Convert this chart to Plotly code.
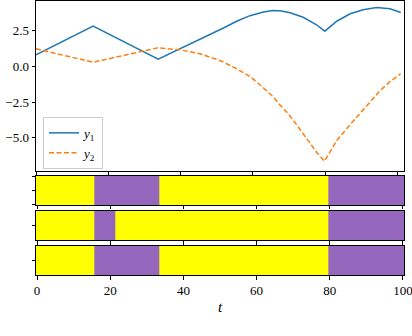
import plotly.graph_objects as go

# ---- data ----
t_y1 = [0, 15.8, 33.8, 38, 43.5, 48, 52, 55.5, 59.2, 62.9, 65.5, 67.5, 70.3,
        73.9, 77.6, 79.9, 83.2, 86.9, 90.5, 94.2, 97.9, 100.9]
y1 = [0.82, 2.83, 0.51, 1.01, 1.66, 2.22, 2.72, 3.18, 3.57, 3.82, 3.93, 3.92, 3.77,
      3.46, 2.93, 2.48, 3.18, 3.70, 3.98, 4.14, 4.05, 3.79]

t_y2 = [0, 15.8, 33.8, 39.8, 45.4, 50.9, 55.5, 59.2, 62.9, 65.5, 67.5, 69.4, 71.7,
        73.9, 75.8, 77.6, 79.8, 81.5, 83.2, 86, 88.7, 92, 95.2, 98, 100.9]
y2 = [1.24, 0.30, 1.32, 1.17, 0.89, 0.42, -0.16, -0.70, -1.50, -2.10, -2.70, -3.21, -3.95,
      -4.73, -5.40, -6.02, -6.65, -5.95, -5.20, -4.35, -3.56, -2.60, -1.69, -1.05, -0.51]

# mode strips: segment edges in t and the mode of each segment (0 = yellow, 1 = purple)
strip1_edges = [-0.5, 15.5, 33.5, 79.5, 100.5]
strip1_modes = [0, 1, 0, 1]
strip2_edges = [-0.5, 15.5, 21.5, 79.5, 100.5]
strip2_modes = [0, 1, 0, 1]
strip3_edges = [-0.5, 15.5, 33.5, 79.5, 100.5]
strip3_modes = [0, 1, 0, 1]

x_ticks = [0, 20, 40, 60, 80, 100]
x_ticktext = ["0", "20", "40", "60", "80", "100"]
y_ticks = [2.5, 0.0, -2.5, -5.0]
y_ticktext = ["2.5", "0.0", "\u22122.5", "\u22125.0"]

BLUE = "#1f77b4"
ORANGE = "#ff7f0e"
YELLOW = "#ffff00"
PURPLE = "#9467bd"
FONT = "Liberation Serif, DejaVu Serif, serif"

fig = go.Figure()

fig.add_trace(go.Scatter(x=t_y1, y=y1, mode="lines", name="<i>y</i><sub>1</sub>",
                         line=dict(color=BLUE, width=1.5), xaxis="x", yaxis="y"))
fig.add_trace(go.Scatter(x=t_y2, y=y2, mode="lines", name="<i>y</i><sub>2</sub>",
                         line=dict(color=ORANGE, width=1.5, dash="5px,2.5px"),
                         xaxis="x", yaxis="y"))

cs = [[0, YELLOW], [0.5, YELLOW], [0.5, PURPLE], [1, PURPLE]]
for i, (edges, modes) in enumerate([(strip1_edges, strip1_modes),
                                    (strip2_edges, strip2_modes),
                                    (strip3_edges, strip3_modes)]):
    fig.add_trace(go.Heatmap(x=edges, y=[0], z=[modes], zmin=0, zmax=1,
                             colorscale=cs, showscale=False, hoverinfo="skip",
                             xaxis=f"x{i+2}", yaxis=f"y{i+2}"))

axis_common = dict(showline=True, mirror=True, linecolor="black", linewidth=1,
                   ticks="outside", ticklen=3.5, tickwidth=1, tickcolor="black",
                   showgrid=False, zeroline=False, automargin=False,
                   ticklabeloverflow="allow",
                   tickfont=dict(family=FONT, size=13, color="black"))

layout = dict(
    width=412, height=336,
    margin=dict(l=36, r=8, t=1, b=61, autoexpand=False),
    font=dict(family=FONT, size=13, color="black"),
    paper_bgcolor="white", plot_bgcolor="white",
    showlegend=True,
    legend=dict(x=0.019, y=0.577, xanchor="left", yanchor="top",
                bgcolor="rgba(255,255,255,0.8)", bordercolor="#cccccc", borderwidth=1,
                font=dict(family=FONT, size=13, color="black"),
                tracegroupgap=0),
    xaxis=dict(domain=[0, 1], range=[0, 101.8], tickvals=x_ticks,
               showticklabels=False, anchor="y", **axis_common),
    yaxis=dict(domain=[0.3796, 1], range=[-7.34, 4.6], tickvals=y_ticks,
               ticktext=y_ticktext, anchor="x", **axis_common),
)
strip_domains = [[0.2555, 0.3613], [0.1277, 0.2336], [0, 0.1058]]
strip_yticks = [[-0.5, 0, 0.5], [0], [0]]
for i in range(3):
    xa = f"xaxis{i+2}"
    ya = f"yaxis{i+2}"
    last = (i == 2)
    layout[xa] = dict(domain=[0, 1], range=[-0.3, 100.3], tickvals=x_ticks,
                      ticktext=x_ticktext, showticklabels=last, anchor=f"y{i+2}",
                      **axis_common)
    if last:
        layout[xa]["title"] = dict(text="<i>t</i>", font=dict(family=FONT, size=15, color="black"),
                                   standoff=4)
    layout[ya] = dict(domain=strip_domains[i], range=[-0.5, 0.5], tickvals=strip_yticks[i],
                      showticklabels=False, anchor=f"x{i+2}", **axis_common)

fig.update_layout(**layout)
fig.write_html("out.html", config={"displayModeBar": False},
               post_script="document.body.style.margin='0';document.body.style.padding='0';")
